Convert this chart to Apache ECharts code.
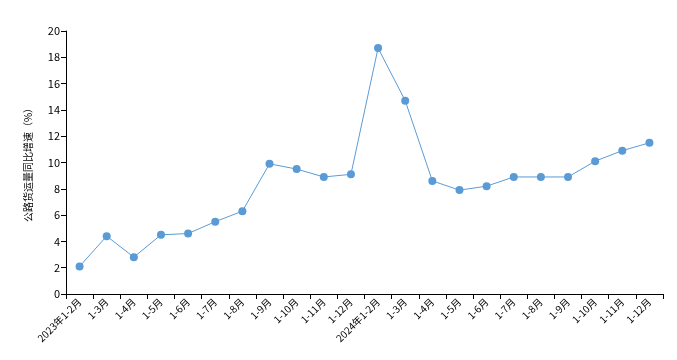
<!DOCTYPE html>
<html><head><meta charset="utf-8">
<script src="https://cdn.jsdelivr.net/npm/echarts@6/dist/echarts.min.js"></script>
<style>html,body{margin:0;padding:0;background:#fff}#c{width:677px;height:360px}</style>
</head><body><div id="c"></div>
<script>
const categories = ["2023年1-2月","1-3月","1-4月","1-5月","1-6月","1-7月","1-8月","1-9月","1-10月","1-11月","1-12月",
  "2024年1-2月","1-3月","1-4月","1-5月","1-6月","1-7月","1-8月","1-9月","1-10月","1-11月","1-12月"];
const growth = [2.1,4.4,2.8,4.5,4.6,5.5,6.3,9.9,9.5,8.9,9.1,18.7,14.7,8.6,7.9,8.2,8.9,8.9,8.9,10.1,10.9,11.5];
const yAxisName = "公路货运量同比增速（%）";

const chart = echarts.init(document.getElementById('c'));
const font = "'Noto Sans CJK SC', sans-serif";
chart.setOption({
  animation:false,
  grid:{left:66,right:14,top:31,bottom:66,containLabel:false},
  xAxis:{type:'category',data:categories,boundaryGap:true,
    axisLine:{lineStyle:{color:'#000',width:1}},
    axisTick:{show:true,alignWithLabel:false,length:5,lineStyle:{color:'#000'}},
    axisLabel:{interval:0,rotate:45,color:'#000',fontSize:10,fontFamily:font,margin:6},
    splitLine:{show:false}},
  yAxis:{type:'value',min:0,max:20,interval:2,name:yAxisName,nameLocation:'middle',nameGap:33,
    nameTextStyle:{color:'#000',fontSize:10,fontFamily:font},
    axisLine:{show:true,lineStyle:{color:'#000',width:1}},
    axisTick:{show:true,length:5,lineStyle:{color:'#000'}},
    axisLabel:{color:'#000',fontSize:11,fontFamily:font,margin:6},
    splitLine:{show:false}},
  series:[{type:'line',data:growth,symbol:'circle',symbolSize:8,
    itemStyle:{color:'#5b9bd5'},lineStyle:{color:'#5b9bd5',width:1}}]
});
</script></body></html>
